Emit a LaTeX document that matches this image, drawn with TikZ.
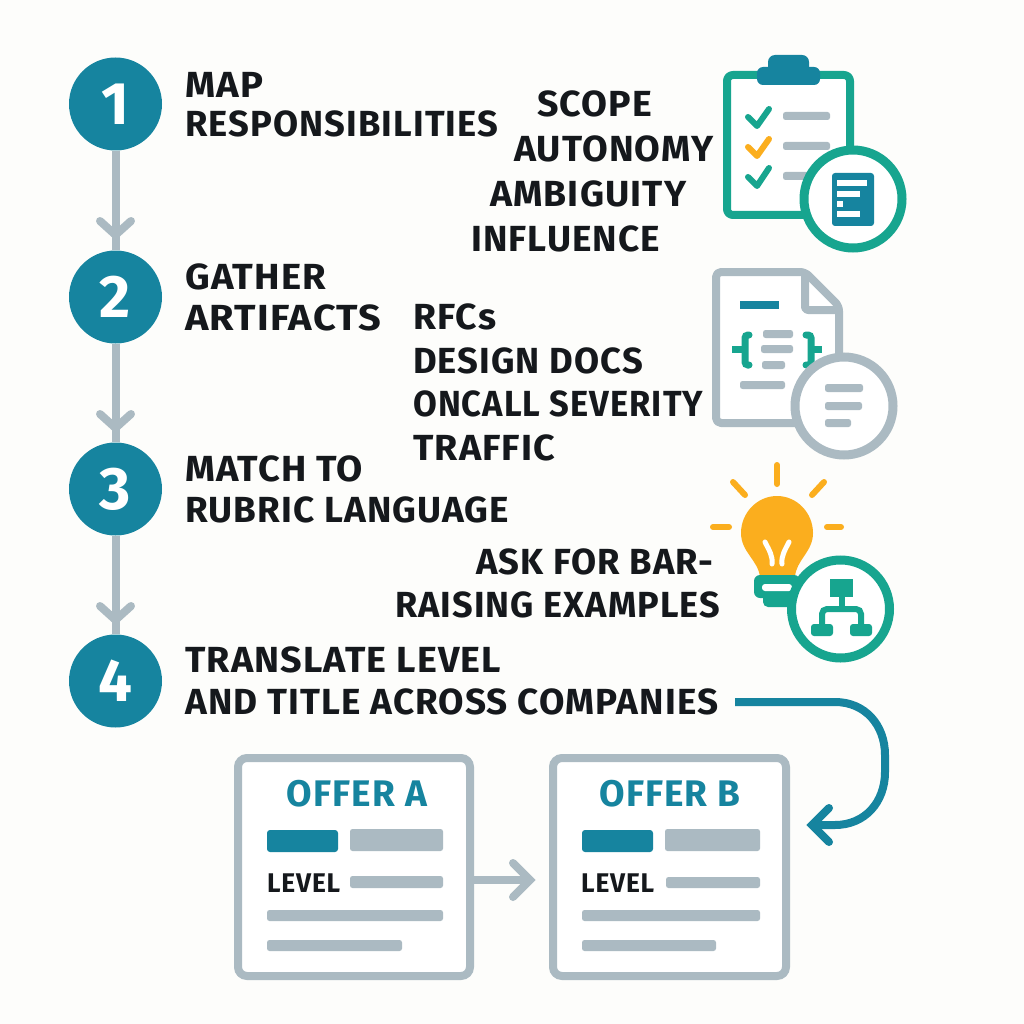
\documentclass[tikz,border=0pt]{standalone}
\usepackage{fontspec}
\usepackage{graphicx}
\setmainfont{Fira Sans}[LetterSpace=3]
\usetikzlibrary{calc}
\definecolor{tealb}{HTML}{16849F}
\definecolor{greent}{HTML}{17A58F}
\definecolor{graybl}{HTML}{ABBAC2}
\definecolor{amber}{HTML}{FBAE1E}
\definecolor{paper}{HTML}{FDFDFB}
\definecolor{ink}{HTML}{15181C}
\newcommand{\fw}[2]{\resizebox{#1pt}{\height}{#2}}
\tikzset{
 stepc/.style={circle,fill=tealb,minimum size=93pt,inner sep=0pt,text=white,font=\bfseries\fontsize{60}{60}\selectfont},
 lab/.style={anchor=west,inner sep=0pt,align=left,text=ink,font=\bfseries\fontsize{36.3}{41}\selectfont},
 flow/.style={draw=graybl,line width=8pt},
 chev/.style={draw=graybl,line width=8pt,line cap=round,line join=miter},
 bar/.style={fill=graybl,rounded corners=2.5pt},
 tbar/.style={fill=tealb,rounded corners=3pt},
 offer/.style={draw=graybl,fill=white,line width=8pt,rounded corners=9pt,minimum width=232pt,minimum height=218pt,inner sep=0pt},
 otitle/.style={text=tealb,inner sep=0pt,font=\bfseries\fontsize{37}{37}\selectfont},
 lvl/.style={anchor=west,text=ink,inner sep=0pt,font=\bfseries\fontsize{27}{27}\selectfont},
 ic/.style={line width=8pt,line join=round},
 badge/.style={circle,fill=white,line width=9pt,minimum size=98pt,inner sep=0pt},
 ray/.style={draw=amber,line width=6pt,line cap=round},
 chk/.style={line width=6pt,line cap=round,line join=round},
}
\begin{document}
\begin{tikzpicture}[x=1pt,y=-1pt]
\useasboundingbox (0,0) rectangle (1024,1024);
\fill[paper] (0,0) rectangle (1024,1024);
% steps
\node[stepc] (s1) at (115.5,104) {1};
\node[stepc] (s2) at (115.5,297) {2};
\node[stepc] (s3) at (115.5,489) {3};
\node[stepc] (s4) at (115.5,681) {4};
\draw[flow] (s1) -- (s2);
\draw[flow] (s2) -- (s3);
\draw[flow] (s3) -- (s4);
\draw[chev] (100,221) -- (115.5,235) -- (131,221);
\draw[chev] (100,414) -- (115.5,428) -- (131,414);
\draw[chev] (100,606) -- (115.5,620) -- (131,606);
% labels
\node[lab] (t1) at (185,105) {\fw{78}{MAP}\\[-2pt]\fw{313}{RESPONSIBILITIES}};
\node[lab] (t2) at (185,297) {\fw{141}{GATHER}\\\fw{196}{ARTIFACTS}};
\node[lab] (t3) at (185,489) {\fw{178}{MATCH TO}\\\fw{324}{RUBRIC LANGUAGE}};
\node[lab] (t4) at (185,681) {\fw{316}{TRANSLATE LEVEL}\\[1pt]\fw{533}{AND TITLE ACROSS COMPANIES}};
\node[lab] (a1) at (537,104) {\fw{115}{SCOPE}};
\node[lab] (a2) at (514,149) {\fw{199}{AUTONOMY}};
\node[lab] (a3) at (490,194) {\fw{196}{AMBIGUITY}};
\node[lab] (a4) at (471,239) {\fw{189}{INFLUENCE}};
\node[lab] (b1) at (413,317) {\fw{83}{RFCs}};
\node[lab] (b2) at (413,361) {\fw{230}{DESIGN DOCS}};
\node[lab] (b3) at (413,404) {\fw{290}{ONCALL SEVERITY}};
\node[lab] (b4) at (413,448) {\fw{142}{TRAFFIC}};
\node[lab] (c1) at (476,562) {\fw{237}{ASK FOR BAR-}};
\node[lab] (c2) at (395,605) {\fw{325}{RAISING EXAMPLES}};
% clipboard
\draw[ic,draw=greent,fill=white,rounded corners=6pt] (727,75) rectangle (850,215);
\fill[tealb,rounded corners=6pt] (757,67) rectangle (820,85);
\fill[tealb,rounded corners=7pt] (768,55) rectangle (809,75);
\draw[chk,draw=greent] (748,117) -- (757,126) -- (769,109);
\draw[chk,draw=amber] (748,147) -- (757,156) -- (769,139);
\draw[chk,draw=greent] (748,177) -- (757,186) -- (769,168);
\fill[bar] (783,112) rectangle (830,120);
\fill[bar] (783,142) rectangle (830,150);
\fill[bar] (783,172) rectangle (815,180);
\node[badge,draw=greent] (m1) at (853,199) {};
\fill[tealb,rounded corners=3pt] (832,173) rectangle (874,226);
\fill[white] (837,180) rectangle (867,186);
\fill[white] (837,191) rectangle (860,197);
\fill[white] (837,201) rectangle (843,207);
\fill[white] (837,211) rectangle (860,217);
% document
\draw[ic,draw=graybl,fill=white,rounded corners=5pt] (716,272) -- (805,272) -- (839,306) -- (839,423) -- (716,423) -- cycle;
\draw[ic,draw=graybl,rounded corners=3pt] (805,272) -- (805,310) -- (839,310);
\fill[tealb] (740,301) rectangle (779,309);
\draw[line width=7pt,draw=greent,line cap=round,rounded corners=3pt] (749,335) -- (745,335) -- (745,365) -- (749,365);
\draw[line width=7pt,draw=greent] (732,349) -- (745,349);
\draw[line width=7pt,draw=greent,line cap=round,rounded corners=3pt] (806,335) -- (811,335) -- (811,365) -- (806,365);
\draw[line width=7pt,draw=greent] (811,349) -- (822,349);
\fill[bar] (763,330) rectangle (793,338);
\fill[bar] (761,345) rectangle (793,353);
\fill[bar] (762,361) rectangle (785,369);
\fill[bar] (740,381) rectangle (785,389);
\node[badge,draw=graybl] (m2) at (844,406) {};
\fill[bar] (825,384) rectangle (863,392);
\fill[bar] (825,402) rectangle (862,410);
\fill[bar] (825,419) rectangle (851,427);
% bulb
\draw[ray] (777,465) -- (777,484);
\draw[ray] (733,482) -- (745,495);
\draw[ray] (824,482) -- (812,495);
\draw[ray] (713,527) -- (729,527);
\draw[ray] (827,527) -- (841,527);
\fill[amber] (760,577) .. controls (758,560) and (741,552) .. (741,533) .. controls (741,513) and (757,496) .. (777,496) .. controls (797,496) and (813,513) .. (813,533) .. controls (813,552) and (796,560) .. (795,577) -- cycle;
\draw[white,line width=5pt,line cap=round] (765,542) .. controls (769,550) and (773,556) .. (772,564);
\draw[white,line width=5pt,line cap=round] (789,542) .. controls (785,550) and (781,556) .. (782,564);
\fill[greent,rounded corners=6pt] (754,575) rectangle (800,598);
\fill[greent,rounded corners=5pt] (763,590) rectangle (800,607);
\fill[white,rounded corners=3pt] (762,584) rectangle (792,591);
\node[badge,draw=greent] (m3) at (840.5,609) {};
\fill[greent] (830,579) rectangle (853,597);
\draw[draw=greent,line width=6pt] (841.5,597) -- (841.5,609);
\draw[draw=greent,line width=6pt,rounded corners=5pt] (822,626) -- (822,609) -- (861,609) -- (861,626);
\fill[greent,rounded corners=3pt] (811,624) rectangle (833,636);
\fill[greent,rounded corners=3pt] (850,624) rectangle (872,636);
% offers
\node[offer] (oa) at (354,867) {};
\node[offer,minimum width=233pt] (ob) at (669.5,867) {};
\node[otitle] (oat) at (357,794) {OFFER A};
\node[otitle] (obt) at (670,794) {OFFER B};
\fill[tbar] (267,830) rectangle (338,852);
\fill[bar] (350,829) rectangle (443,851);
\node[lvl] (la) at (267,883) {\fw{73}{LEVEL}};
\fill[bar] (350,876) rectangle (443,888);
\fill[bar] (267,910) rectangle (443,921);
\fill[bar] (267,940) rectangle (402,951);
\fill[tbar] (582,830) rectangle (653,852);
\fill[bar] (665,829) rectangle (760,851);
\node[lvl] (lb) at (581,883) {\fw{73}{LEVEL}};
\fill[bar] (666,877) rectangle (760,888);
\fill[bar] (582,910) rectangle (760,921);
\fill[bar] (582,940) rectangle (716,951);
% offer arrow
\coordinate (oe) at (529,880);
\draw[flow] (oa.east |- oe) -- (oe);
\draw[chev] (513,863) -- (530,880) -- (513,897);
% long arrow
\coordinate (ls) at (735,702);
\coordinate (le) at (815,825);
\draw[draw=tealb,line width=8pt] (ls) -- (835,702) .. controls (865,702) and (885,725) .. (885,755) -- (885,772) .. controls (885,802) and (865,825) .. (835,825) -- (le);
\draw[draw=tealb,line width=8pt,line cap=round] (829,808) -- (812,825) -- (829,842);
\end{tikzpicture}
\end{document}
